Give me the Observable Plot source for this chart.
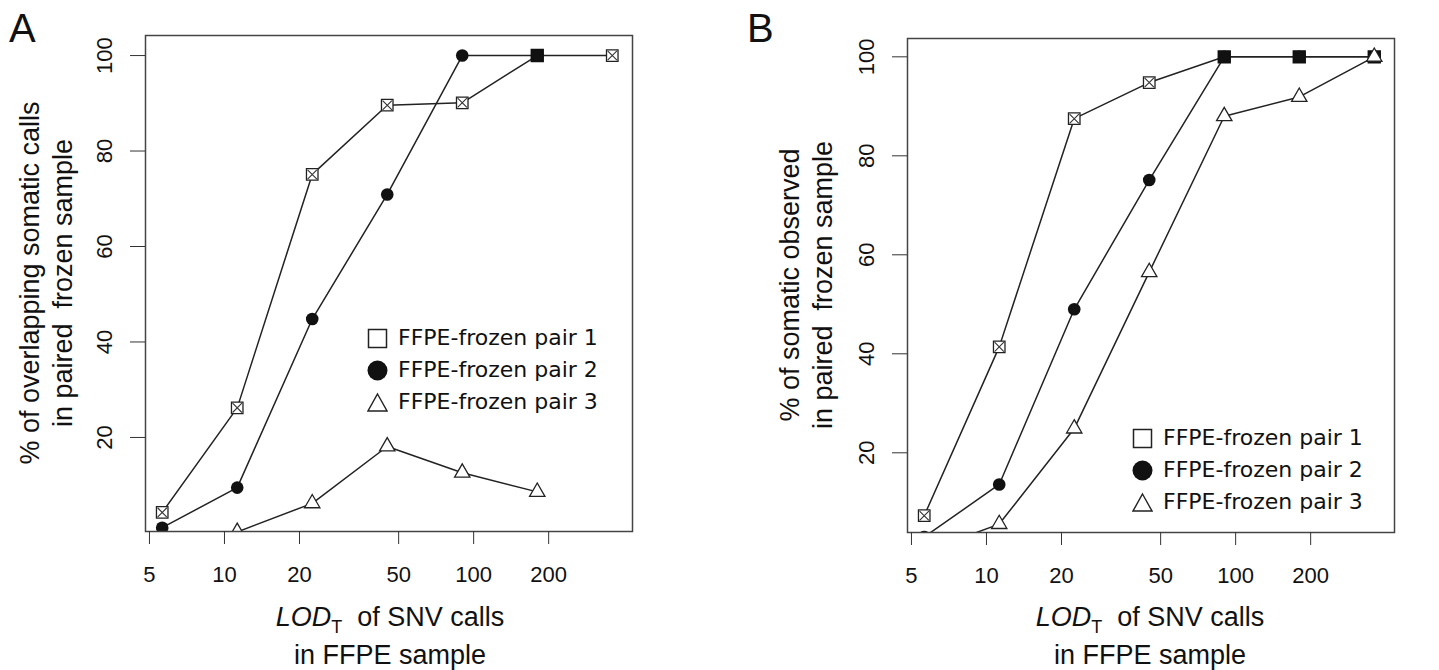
<!DOCTYPE html>
<html><head><meta charset="utf-8">
<script src="https://cdn.jsdelivr.net/npm/d3@7"></script>
<script src="https://cdn.jsdelivr.net/npm/@observablehq/plot@0.6"></script>
<style>
body{margin:0;background:#fff;}
#wrap{position:relative;width:1439px;height:670px;overflow:hidden;font-family:"Liberation Sans",Arial,sans-serif;color:#111;}
.ytitle{position:absolute;white-space:nowrap;text-align:center;font-size:27px;line-height:33px;transform:translate(-50%,-50%) rotate(-90deg);}
.xtitle{position:absolute;white-space:nowrap;text-align:center;font-size:27px;line-height:35px;transform:translateX(-50%);}
.letter{position:absolute;font-size:40px;line-height:40px;}
.leg{position:absolute;font-family:"DejaVu Sans",sans-serif;font-size:22px;line-height:32px;white-space:nowrap;}
.leg svg{position:absolute;}
</style></head><body><div id="wrap"></div>
<script>
// ---- data ----
const lod = [5.625, 11.25, 22.5, 45, 90, 180, 360];
const seriesNames = ["FFPE-frozen pair 1", "FFPE-frozen pair 2", "FFPE-frozen pair 3"];
const panelA_pair1 = [4.3, 26.2, 75.1, 89.6, 90.1, 100, 100];
const panelA_pair2 = [1.1, 9.5, 44.8, 70.9, 100, 100, null];
const panelA_pair3 = [null, 0.2, 6.2, 18.1, 12.6, 8.6, null];
const panelB_pair1 = [7.3, 41.4, 87.5, 94.8, 100, 100, 100];
const panelB_pair2 = [3.0, 13.6, 49.0, 75.1, 100, 100, 100];
const panelB_pair3 = [0.0, 5.6, 24.9, 56.5, 88.0, 91.9, 100];
const xTicks = [5, 10, 20, 50, 100, 200];
const yTicks = [20, 40, 60, 80, 100];
const xDomain = [4.82, 434];
const yDomainA = [0.3, 104.2];
const yDomainB = [3.9, 103.7];
const yTitleA = ["% of overlapping somatic calls", "in paired  frozen sample"];
const yTitleB = ["% of somatic observed", "in paired  frozen sample"];

function panel(pairs, yDomain, opts) {
  const rows = [];
  pairs.forEach((vals, s) => vals.forEach((v, i) => {
    if (v != null) rows.push({series: s, x: lod[i], y: v, both: s === 0 && pairs[1][i] === v});
  }));
  const p1 = rows.filter(d => d.series === 0);
  const p2 = rows.filter(d => d.series === 1);
  const p3 = rows.filter(d => d.series === 2);
  const svg = Plot.plot({
    width: opts.width, height: 670,
    marginLeft: opts.ml, marginRight: opts.mr, marginTop: opts.mt, marginBottom: opts.mb,
    x: {type: "log", domain: xDomain},
    y: {domain: yDomain},
    style: {fontFamily: "Liberation Sans, Arial, sans-serif", fontSize: "22px", color: "#111", background: "transparent", overflow: "visible"},
    marks: [
      Plot.line(rows, {x: "x", y: "y", z: "series", stroke: "#222", strokeWidth: 1.5, clip: true}),
      Plot.dot(p1.filter(d => !d.both), {x: "x", y: "y", symbol: "square", r: 6.5, fill: "white", stroke: "#222", strokeWidth: 1.3, clip: true}),
      Plot.dot(p1.filter(d => !d.both), {x: "x", y: "y", symbol: "times", r: 4.3, stroke: "#333", strokeWidth: 1.1, clip: true}),
      Plot.dot(p1.filter(d => d.both), {x: "x", y: "y", symbol: "square", r: 6.7, fill: "#111", stroke: "#111", clip: true}),
      Plot.dot(p2, {x: "x", y: "y", symbol: "circle", r: 6.3, fill: "#111", stroke: "none", clip: true}),
      Plot.dot(p3, {x: "x", y: "y", symbol: "triangle", r: 5.7, fill: "white", stroke: "#222", strokeWidth: 1.3, clip: true}),
      Plot.frame({stroke: "#444", strokeWidth: 1.5}),
      Plot.axisX({ticks: xTicks, tickSize: 13, tickPadding: 22, tickFormat: d => String(d), label: null, stroke: "#333"}),
      Plot.axisY({ticks: yTicks, tickSize: 15, tickPadding: 19, tickRotate: -90, label: null, stroke: "#333"})
    ]
  });
  svg.style.position = "absolute";
  svg.style.top = "0px";
  svg.style.left = opts.left + "px";
  return svg;
}

const wrap = document.getElementById("wrap");
wrap.appendChild(panel([panelA_pair1, panelA_pair2, panelA_pair3], yDomainA, {left: 0, width: 720, ml: 145, mr: 88, mt: 35, mb: 139}));
wrap.appendChild(panel([panelB_pair1, panelB_pair2, panelB_pair3], yDomainB, {left: 720, width: 719, ml: 187, mr: 45, mt: 38, mb: 138}));

function addDiv(cls, html, style) {
  const d = document.createElement("div");
  d.className = cls; d.innerHTML = html;
  Object.assign(d.style, style);
  wrap.appendChild(d);
  return d;
}
// panel letters
addDiv("letter", "A", {left: "9px", top: "8px"});
addDiv("letter", "B", {left: "747px", top: "8px"});
// y titles
addDiv("ytitle", yTitleA.join("<br>").replace(/  /g, "&nbsp; "), {left: "47px", top: "283px"});
addDiv("ytitle", yTitleB.join("<br>").replace(/  /g, "&nbsp; "), {left: "807px", top: "285px"});
// x titles
const xt = '<i>LOD</i><span style="font-size:18px;position:relative;top:7px;">T</span>&nbsp; of SNV calls<br>in FFPE sample';
addDiv("xtitle", xt, {left: "390px", top: "600px"});
addDiv("xtitle", xt, {left: "1150px", top: "600px"});

// legends
const legSymbols = [
  '<rect x="1.5" y="1.5" width="18" height="18" fill="white" stroke="#222" stroke-width="1.5"/>',
  '<circle cx="10.5" cy="10.5" r="10" fill="#111"/>',
  '<polygon points="10.5,2 20,19 1,19" fill="white" stroke="#222" stroke-width="1.4"/>'
];
function legend(symX, textX, rowYs) {
  seriesNames.forEach((name, i) => {
    const d = addDiv("leg", name, {left: textX + "px", top: (rowYs[i] - 16) + "px"});
    const s = document.createElementNS("http://www.w3.org/2000/svg", "svg");
    s.setAttribute("width", 21); s.setAttribute("height", 21);
    s.innerHTML = legSymbols[i];
    s.style.left = (symX - textX - 10.5) + "px";
    s.style.top = "5.5px";
    d.appendChild(s);
  });
}
legend(377, 398, [338, 370, 402]);
legend(1142, 1163, [438, 470, 502]);
</script></body></html>
